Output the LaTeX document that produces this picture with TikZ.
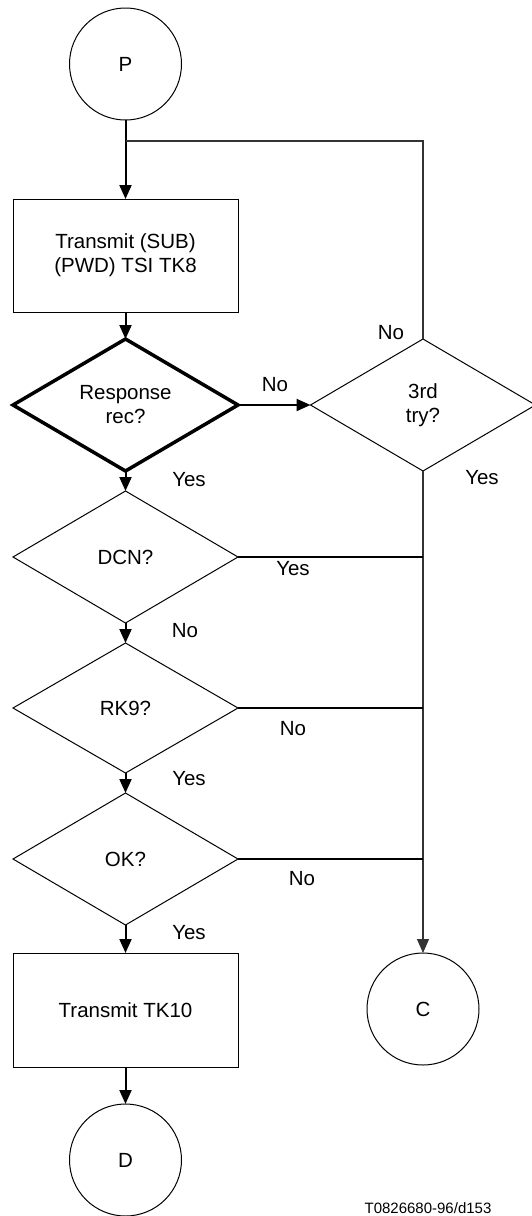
\documentclass[tikz,border=0pt]{standalone}
\usepackage{fontspec}
\setmainfont{Liberation Sans}
\usetikzlibrary{shapes.geometric,arrows.meta}
\begin{document}
\begin{tikzpicture}[x=1pt,y=-1pt,
  txt/.style={font=\fontsize{20.5}{24}\selectfont},
  lbl/.style={txt,inner sep=0pt},
  dia/.style={diamond,draw,line width=1pt,outer sep=0pt,inner sep=0pt,minimum width=225pt,minimum height=132pt,txt,align=center},
  boxx/.style={rectangle,draw,line width=1pt,outer sep=0pt,minimum width=225pt,minimum height=113pt,txt,align=center},
  term/.style={circle,draw,line width=1pt,outer sep=0pt,minimum size=112pt,txt},
  flow/.style={line width=2pt,-{Triangle[length=14pt,width=12pt]}},
  branch/.style={line width=2pt},
  side/.style={line width=1.2pt,draw=black!80},
  sidearr/.style={side,-{Triangle[length=14pt,width=12pt]}}
]
\useasboundingbox (0,0) rectangle (531,1216);
\node[term] (P) at (125.5,64) {P};
\node[boxx] (b1) at (125.5,255.5) {Transmit (SUB)\\(PWD) TSI TK8};
\node[dia,line width=3.5pt] (resp) at (125.5,405) {Response\\rec?};
\node[dia] (three) at (423,405) {3rd\\try?};
\node[dia] (dcn) at (125.5,557) {DCN?};
\node[dia,minimum height=130pt] (rk9) at (125.5,708) {RK9?};
\node[dia] (ok) at (125.5,859) {OK?};
\node[boxx,minimum height=114pt] (b2) at (125.5,1010) {Transmit TK10};
\node[term] (D) at (125.5,1160) {D};
\node[term] (C) at (423,1009) {C};

\coordinate (J) at (125.5,141);
\draw[flow] (P.south) -- (b1.north);
\draw[side] (J) -- (three.north |- J) -- (three.north);
\draw[flow] (b1.south) -- (resp.north);
\draw[flow] (resp.east) -- (three.west);
\draw[flow] (resp.south) -- (dcn.north);
\draw[flow] (dcn.south) -- (rk9.north);
\draw[flow] (rk9.south) -- (ok.north);
\draw[flow] (ok.south) -- (b2.north);
\draw[flow] (b2.south) -- (D.north);
\draw[sidearr] (three.south) -- (C.north);
\draw[branch] (dcn.east) -- (three.south |- dcn.east);
\draw[branch] (rk9.east) -- (three.south |- rk9.east);
\draw[branch] (ok.east) -- (three.south |- ok.east);

\node[lbl] (l1) at (275,385) {No};
\node[lbl] (l2) at (391,333) {No};
\node[lbl] (l3) at (482,478) {Yes};
\node[lbl] (l4) at (189,480) {Yes};
\node[lbl] (l5) at (293,569) {Yes};
\node[lbl] (l6) at (185,631) {No};
\node[lbl] (l7) at (293,729) {No};
\node[lbl] (l8) at (189,779) {Yes};
\node[lbl] (l9) at (302,879) {No};
\node[lbl] (l10) at (189,933) {Yes};
\node[inner sep=0pt,anchor=base,font=\fontsize{15}{18}\selectfont] (foot) at (428,1213.5) {T0826680-96/d153};
\end{tikzpicture}
\end{document}
